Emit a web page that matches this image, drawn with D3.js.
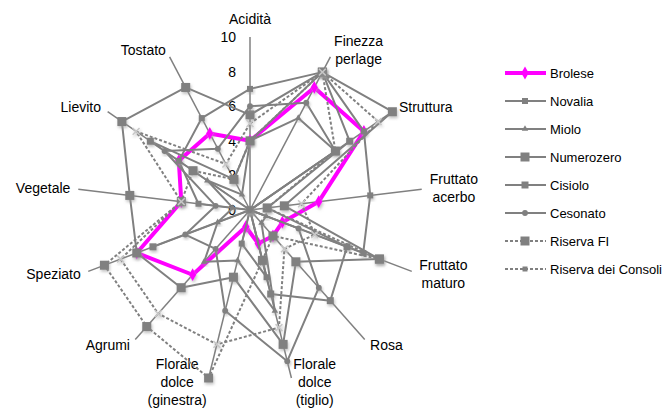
<!DOCTYPE html>
<html>
<head>
<meta charset="utf-8">
<script src="https://cdn.jsdelivr.net/npm/d3@7"></script>
<style>
body { margin: 0; background: #fff; }
text { font-family: "Liberation Sans", Arial, sans-serif; fill: #000; }
</style>
</head>
<body>
<div class="container"></div>
<script>
// axes of the radar, clockwise from the top
var axes = ["Acidità", "Finezza\nperlage", "Struttura", "Fruttato\nacerbo", "Fruttato\nmaturo", "Rosa",
	"Florale\ndolce\n(tiglio)", "Florale\ndolce\n(ginestra)", "Agrumi", "Speziato", "Vegetale", "Lievito", "Tostato"];
var ticks = [0, 2, 4, 6, 8, 10];

var brolese    = [4, 8, 8, 4, 2, 2, 2, 1, 5, 7, 4, 5, 5];
var novalia    = [7, 9, 8, 7, 7, 0, 4, 2, 0, 0, 3, 5, 6];
var miolo      = [4, 6, 6, 0, 1, 1, 6, 3, 4, 2, 1, 3, 1];
var numerozero = [5.5, 9, 10, 2, 8, 4, 8, 4, 6, 7, 7, 9, 8];
var cisiolo    = [4, 9, 7, 1, 6, 7, 5, 0, 0, 6, 0, 7, 2];
var cesonato   = [6, 7, 6, 0, 3, 6, 9, 6, 3, 4, 2, 6, 4];
var riservaFI  = [4, 9, 6, 1, 8, 2, 3, 10, 9, 9, 4, 4, 2];
var riservaCon = [5, 9, 9, 3, 4, 3, 7, 8, 8, 8, 4, 8, 3];

var names = ["Brolese", "Novalia", "Miolo", "Numerozero", "Cisiolo", "Cesonato", "Riserva FI", "Riserva dei Consoli"];
var values = [brolese, novalia, miolo, numerozero, cisiolo, cesonato, riservaFI, riservaCon];

var grey = "#808080";
var styles = [
	{color: "#ff00ff", width: 4, dash: null, marker: "diamond", size: 9},
	{color: grey, width: 2, dash: null, marker: "square", size: 6},
	{color: grey, width: 2, dash: null, marker: "triangle", size: 6},
	{color: grey, width: 2, dash: null, marker: "square", size: 9},
	{color: grey, width: 2, dash: null, marker: "square", size: 7},
	{color: grey, width: 2, dash: null, marker: "circle", size: 6},
	{color: grey, width: 2, dash: "3,2", marker: "square", size: 9},
	{color: grey, width: 2, dash: "3,2", marker: "cross", size: 6}
];

var W = 669, H = 410, cx = 250, cy = 210, R = 173;

var svg = d3.select(".container").append("svg")
	.attr("width", W)
	.attr("height", H);

var defs = svg.append("defs");
var f = defs.append("filter").attr("id", "shadow").attr("x", "-50%").attr("y", "-50%").attr("width", "200%").attr("height", "200%");
f.append("feDropShadow").attr("dx", 1).attr("dy", 2).attr("stdDeviation", 1.5)
	.attr("flood-color", "#999").attr("flood-opacity", 0.6);

var r = d3.scaleLinear().domain([0, 10]).range([0, R]);
var angle = function(i){ return i * 2 * Math.PI / axes.length; };

var g = svg.append("g").attr("transform", "translate(" + cx + "," + cy + ")");

// spokes
g.selectAll("line.axis").data(axes).enter().append("line")
	.attr("class", "axis")
	.attr("x1", 0).attr("y1", 0)
	.attr("x2", function(d, i){ return d3.pointRadial(angle(i), r(10))[0]; })
	.attr("y2", function(d, i){ return d3.pointRadial(angle(i), r(10))[1]; })
	.attr("stroke", grey).attr("stroke-width", 1.5);

// tick labels on the vertical axis
g.selectAll("text.tick").data(ticks).enter().append("text")
	.attr("class", "tick")
	.attr("x", -14)
	.attr("y", function(d){ return -r(d) + 5; })
	.attr("text-anchor", "end")
	.style("font-size", "14px")
	.text(function(d){ return d; });

// category labels
axes.forEach(function(label, i){
	var a = angle(i), s = Math.sin(a), c = Math.cos(a);
	var p = d3.pointRadial(a, R + 8);
	var lines = label.split("\n");
	var t = g.append("text").style("font-size", "14px").attr("text-anchor", "middle");
	var spans = lines.map(function(l){ return t.append("tspan").text(l); });
	var wMax = d3.max(spans, function(sp){ return sp.node().getComputedTextLength(); });
	var x0;
	if (Math.abs(s) < 0.05) x0 = p[0];
	else if (s > 0) x0 = p[0] + wMax / 2;
	else x0 = p[0] - wMax / 2;
	var y0;
	if (Math.abs(s) < 0.05 && c > 0) y0 = p[1] - 5 - (lines.length - 1) * 18;
	else y0 = p[1] - lines.length * 18 / 2 + 14;
	// keep the bottom labels inside the picture
	var last = cy + y0 + (lines.length - 1) * 18;
	if (last > H - 5) y0 -= last - (H - 5);
	spans.forEach(function(sp, k){
		sp.attr("x", x0).attr("y", y0 + k * 18);
	});
});

var markerPath = function(type, size){
	if (type === "diamond") return d3.symbol(d3.symbolDiamond, size * size * 0.6)();
	if (type === "triangle") return d3.symbol(d3.symbolTriangle, size * size * 0.5)();
	if (type === "circle") return d3.symbol(d3.symbolCircle, size * size * 0.75)();
	if (type === "cross") return d3.symbol(d3.symbolX, size * size * 0.9)();
	return d3.symbol(d3.symbolSquare, size * size)();
};

var radar = d3.lineRadial()
	.angle(function(d, i){ return angle(i); })
	.radius(function(d){ return r(d); })
	.curve(d3.curveLinearClosed);

values.forEach(function(vals, k){
	var st = styles[k];
	var sg = g.append("g");
	sg.append("path")
		.attr("d", radar(vals))
		.attr("fill", "none")
		.attr("stroke", st.color)
		.attr("stroke-width", st.width)
		.attr("stroke-dasharray", st.dash)
		.attr("stroke-linejoin", "round");
	sg.selectAll("path.m").data(vals).enter().append("path")
		.attr("class", "m")
		.attr("transform", function(d, i){ var p = d3.pointRadial(angle(i), r(d)); return "translate(" + p[0] + "," + p[1] + ")"; })
		.attr("d", markerPath(st.marker, st.size))
		.attr("fill", st.marker === "cross" ? "none" : st.color)
		.attr("stroke", st.marker === "cross" ? "#c8c8c8" : "none")
		.attr("stroke-width", 1.5)
		.attr("filter", "url(#shadow)");
});

// legend
var lg = svg.append("g").attr("transform", "translate(505,73)");
names.forEach(function(name, k){
	var st = styles[k];
	var row = lg.append("g").attr("transform", "translate(0," + (k * 28) + ")");
	row.append("line").attr("x1", 0).attr("x2", 41).attr("y1", 0).attr("y2", 0)
		.attr("stroke", st.color)
		.attr("stroke-width", st.width)
		.attr("stroke-dasharray", st.dash);
	row.append("path")
		.attr("transform", "translate(20,0)")
		.attr("d", markerPath(st.marker === "cross" ? "square" : st.marker, st.marker === "cross" ? 5 : st.size))
		.attr("fill", st.color);
	row.append("text").attr("x", 45).attr("y", 5)
		.style("font-size", "13px")
		.text(name);
});
</script>
</body>
</html>
